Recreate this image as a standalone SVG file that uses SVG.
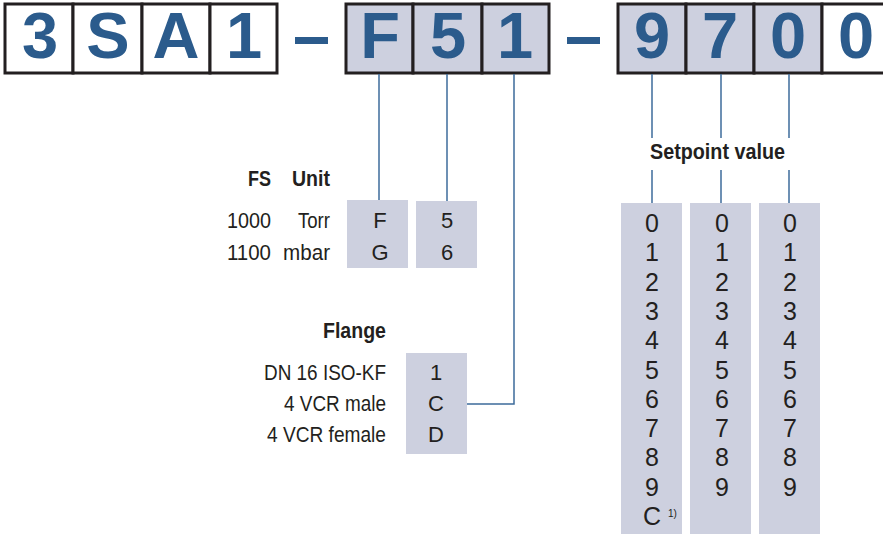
<svg xmlns="http://www.w3.org/2000/svg" width="883" height="535" viewBox="0 0 883 535">
<style>
.cell{stroke:#231f20;stroke-width:3}
.w{fill:#ffffff}
.g{fill:#cdd0df}
.big{font-family:"Liberation Sans",Arial,sans-serif;font-weight:bold;font-size:65px;fill:#2b5b8c;text-anchor:middle}
.lbl{font-family:"Liberation Sans",Arial,sans-serif;font-size:22px;fill:#231f20}
.sup{font-family:"Liberation Sans",Arial,sans-serif;font-size:10px;fill:#231f20}
.hd{font-family:"Liberation Sans",Arial,sans-serif;font-size:22px;font-weight:bold;fill:#231f20}
.code{font-family:"Liberation Sans",Arial,sans-serif;font-size:22px;fill:#231f20;text-anchor:middle}
.dig{font-family:"Liberation Sans",Arial,sans-serif;font-size:25px;fill:#231f20;text-anchor:middle}
.con{stroke:#3d6b9b;stroke-width:1.5;fill:none}
.box{fill:#cdd0df}
</style>

<g id="code-3SA1">
<rect class="cell w" x="5" y="4" width="68" height="69"/>
<rect class="cell w" x="73" y="4" width="69" height="69"/>
<rect class="cell w" x="142" y="4" width="68" height="69"/>
<rect class="cell w" x="210" y="4" width="67" height="69"/>
<text class="big" x="40" y="58">3</text>
<text class="big" x="108" y="58">S</text>
<text class="big" x="176" y="58">A</text>
<text class="big" x="244" y="58">1</text>
</g>

<g id="dash1"><rect x="295" y="37" width="33" height="7" fill="#2b5b8c"/></g>

<g id="code-F51">
<rect class="cell g" x="346" y="4" width="67" height="69"/>
<rect class="cell g" x="413" y="4" width="69" height="69"/>
<rect class="cell g" x="482" y="4" width="67" height="69"/>
<text class="big" x="380" y="58">F</text>
<text class="big" x="448" y="58">5</text>
<text class="big" x="515" y="58">1</text>
</g>

<g id="dash2"><rect x="567" y="37" width="33" height="7" fill="#2b5b8c"/></g>

<g id="code-9700">
<rect class="cell g" x="618" y="4" width="68" height="69"/>
<rect class="cell g" x="686" y="4" width="68" height="69"/>
<rect class="cell g" x="754" y="4" width="68" height="69"/>
<rect class="cell w" x="822" y="4" width="70" height="69"/>
<text class="big" x="652" y="58">9</text>
<text class="big" x="720" y="58">7</text>
<text class="big" x="788" y="58">0</text>
<text class="big" x="856" y="58">0</text>
</g>

<g id="connectors">
<line class="con" x1="379" y1="74" x2="379" y2="200"/>
<line class="con" x1="447" y1="74" x2="447" y2="201"/>
<polyline class="con" points="514,74 514,404 467,404"/>
<line class="con" x1="652" y1="74" x2="652" y2="138"/>
<line class="con" x1="721" y1="74" x2="721" y2="138"/>
<line class="con" x1="789" y1="74" x2="789" y2="138"/>
<line class="con" x1="652" y1="170" x2="652" y2="203"/>
<line class="con" x1="721" y1="170" x2="721" y2="203"/>
<line class="con" x1="789" y1="170" x2="789" y2="203"/>
</g>

<g id="fs-unit">
<text class="hd" x="271" y="186" text-anchor="end" textLength="23" lengthAdjust="spacingAndGlyphs">FS</text>
<text class="hd" x="330" y="186" text-anchor="end" textLength="38" lengthAdjust="spacingAndGlyphs">Unit</text>
<text class="lbl" x="271" y="228" text-anchor="end" textLength="44" lengthAdjust="spacingAndGlyphs">1000</text>
<text class="lbl" x="330" y="228" text-anchor="end" textLength="32" lengthAdjust="spacingAndGlyphs">Torr</text>
<text class="lbl" x="271" y="260" text-anchor="end" textLength="44" lengthAdjust="spacingAndGlyphs">1100</text>
<text class="lbl" x="330" y="260" text-anchor="end" textLength="47" lengthAdjust="spacingAndGlyphs">mbar</text>
</g>

<g id="fs-box">
<rect class="box" x="347" y="200" width="61" height="68"/>
<text class="code" x="380" y="228">F</text>
<text class="code" x="380" y="260">G</text>
</g>

<g id="unit-box">
<rect class="box" x="416" y="201" width="61" height="67"/>
<text class="code" x="447" y="228">5</text>
<text class="code" x="447" y="260">6</text>
</g>

<g id="flange">
<text class="hd" x="386" y="338" text-anchor="end" textLength="63" lengthAdjust="spacingAndGlyphs">Flange</text>
<text class="lbl" x="386" y="380" text-anchor="end" textLength="122" lengthAdjust="spacingAndGlyphs">DN 16 ISO-KF</text>
<text class="lbl" x="386" y="411" text-anchor="end" textLength="102" lengthAdjust="spacingAndGlyphs">4 VCR male</text>
<text class="lbl" x="386" y="442" text-anchor="end" textLength="119" lengthAdjust="spacingAndGlyphs">4 VCR female</text>
</g>

<g id="flange-box">
<rect class="box" x="406" y="353" width="61" height="101"/>
<text class="code" x="436" y="380">1</text>
<text class="code" x="436" y="411">C</text>
<text class="code" x="436" y="442">D</text>
</g>

<g id="setpoint-label">
<text class="hd" x="650" y="159" textLength="135" lengthAdjust="spacingAndGlyphs">Setpoint value</text>
</g>

<g id="setpoint-1">
<rect class="box" x="621" y="203" width="61" height="331"/>
<text class="dig" x="652" y="232">0</text>
<text class="dig" x="652" y="261">1</text>
<text class="dig" x="652" y="291">2</text>
<text class="dig" x="652" y="320">3</text>
<text class="dig" x="652" y="349">4</text>
<text class="dig" x="652" y="379">5</text>
<text class="dig" x="652" y="408">6</text>
<text class="dig" x="652" y="437">7</text>
<text class="dig" x="652" y="466">8</text>
<text class="dig" x="652" y="496">9</text>
<text class="dig" x="652" y="525">C</text>
<text class="sup" x="668" y="517">1)</text>
</g>

<g id="setpoint-2">
<rect class="box" x="690" y="203" width="61" height="331"/>
<text class="dig" x="722" y="232">0</text>
<text class="dig" x="722" y="261">1</text>
<text class="dig" x="722" y="291">2</text>
<text class="dig" x="722" y="320">3</text>
<text class="dig" x="722" y="349">4</text>
<text class="dig" x="722" y="379">5</text>
<text class="dig" x="722" y="408">6</text>
<text class="dig" x="722" y="437">7</text>
<text class="dig" x="722" y="466">8</text>
<text class="dig" x="722" y="496">9</text>
</g>

<g id="setpoint-3">
<rect class="box" x="759" y="203" width="61" height="331"/>
<text class="dig" x="790" y="232">0</text>
<text class="dig" x="790" y="261">1</text>
<text class="dig" x="790" y="291">2</text>
<text class="dig" x="790" y="320">3</text>
<text class="dig" x="790" y="349">4</text>
<text class="dig" x="790" y="379">5</text>
<text class="dig" x="790" y="408">6</text>
<text class="dig" x="790" y="437">7</text>
<text class="dig" x="790" y="466">8</text>
<text class="dig" x="790" y="496">9</text>
</g>
</svg>
